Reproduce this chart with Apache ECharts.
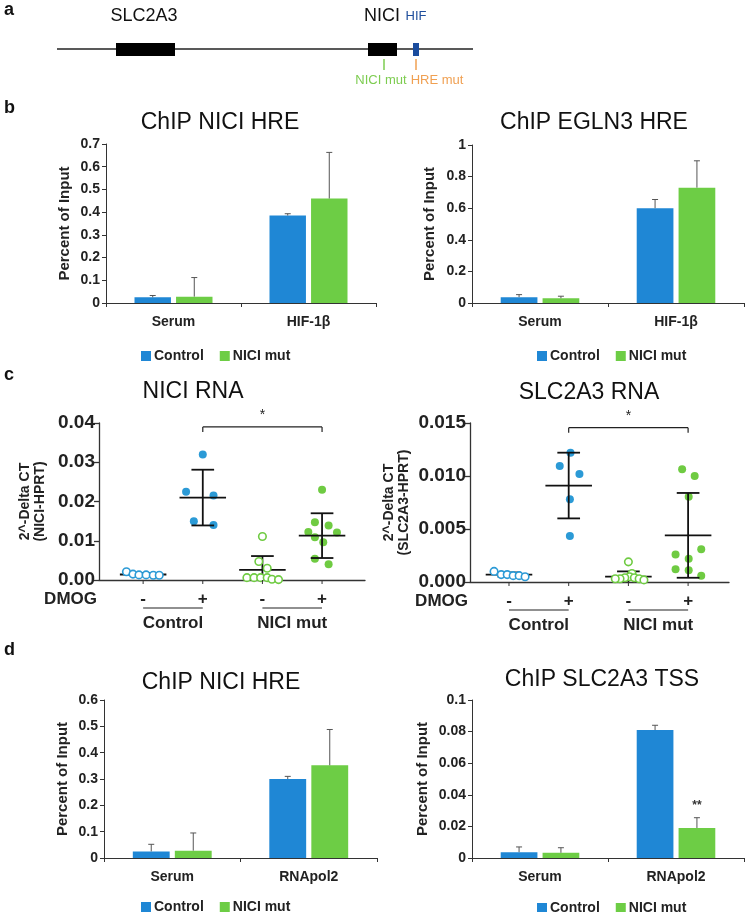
<!DOCTYPE html>
<html><head><meta charset="utf-8">
<script src="https://cdn.jsdelivr.net/npm/echarts@6/dist/echarts.min.js"></script>
<style>html,body{margin:0;padding:0;background:#fff}#c{width:745px;height:912px}</style>
</head><body><div id="c"></div>
<script>
// ---------- DATA ----------
const groupNames = ['Control', 'NICI mut'];

// panel b left: ChIP NICI HRE
const bLeftCats = ['Serum', 'HIF-1β'];
const bLeftControl = [0.025, 0.385];
const bLeftControlErr = [0.008, 0.008];
const bLeftMut = [0.028, 0.46];
const bLeftMutErr = [0.084, 0.203];
const bLeftTicks = [0, 0.7, 0.1];

// panel b right: ChIP EGLN3 HRE
const bRightCats = ['Serum', 'HIF-1β'];
const bRightControl = [0.037, 0.60];
const bRightControlErr = [0.016, 0.055];
const bRightMut = [0.030, 0.73];
const bRightMutErr = [0.013, 0.17];
const bRightTicks = [0, 1, 0.2];

// panel d left: ChIP NICI HRE
const dLeftCats = ['Serum', 'RNApol2'];
const dLeftControl = [0.025, 0.30];
const dLeftControlErr = [0.027, 0.010];
const dLeftMut = [0.028, 0.352];
const dLeftMutErr = [0.067, 0.136];
const dLeftTicks = [0, 0.6, 0.1];

// panel d right: ChIP SLC2A3 TSS
const dRightCats = ['Serum', 'RNApol2'];
const dRightControl = [0.0037, 0.081];
const dRightControlErr = [0.0033, 0.003];
const dRightMut = [0.0033, 0.019];
const dRightMutErr = [0.0032, 0.0065];
const dRightMutSig = ['', '**'];
const dRightTicks = [0, 0.1, 0.02];

// panel c: DMOG groups
const dmogSigns = ['-', '+', '-', '+'];
const cGroupLabels = ['Control', 'NICI mut'];

// NICI RNA (values; jitter = horizontal spread of the dot swarm)
const niciG1 = [0.0021, 0.0015, 0.0013, 0.0013, 0.0012, 0.0012];
const niciG1Jit = [-0.28, -0.17, -0.07, 0.05, 0.17, 0.27];
const niciG2 = [0.032, 0.0225, 0.0215, 0.015, 0.014];
const niciG2Jit = [0, -0.28, 0.18, -0.15, 0.18];
const niciG3 = [0.0111, 0.0047, 0.003, 0.0006, 0.0006, 0.0006, 0.0006, 0.0002, 0.0001];
const niciG3Jit = [0, -0.06, 0.08, -0.26, -0.14, -0.03, 0.08, 0.16, 0.27];
const niciG4 = [0.023, 0.0147, 0.0139, 0.0122, 0.0121, 0.0109, 0.0096, 0.0054, 0.004];
const niciG4Jit = [0, -0.12, 0.11, -0.23, 0.25, -0.12, 0.02, -0.12, 0.11];
const niciMeans = [0.0014, 0.021, 0.0026, 0.0113];
const niciSDs = [0.0004, 0.0071, 0.0035, 0.0057];
const niciTicks = [0, 0.04, 0.01];
const niciBracket = 0.039;

// SLC2A3 RNA
const slcG1 = [0.0010, 0.0007, 0.0007, 0.0006, 0.0006, 0.0005];
const slcG1Jit = [-0.25, -0.13, -0.03, 0.07, 0.17, 0.27];
const slcG2 = [0.0122, 0.01095, 0.0102, 0.0078, 0.00435];
const slcG2Jit = [0.03, -0.15, 0.18, 0.02, 0.02];
const slcG3 = [0.0019, 0.0008, 0.0005, 0.0004, 0.0004, 0.0003, 0.0003, 0.0003, 0.0002];
const slcG3Jit = [0, 0.06, 0.02, -0.06, 0.10, -0.14, -0.22, 0.18, 0.26];
const slcG4 = [0.01063, 0.0100, 0.00804, 0.0031, 0.0026, 0.0022, 0.0012, 0.0011, 0.0006];
const slcG4Jit = [-0.1, 0.11, 0.01, 0.22, -0.21, 0.01, -0.21, 0.01, 0.22];
const slcMeans = [0.0007, 0.0091, 0.0005, 0.0044];
const slcSDs = [0.0002, 0.0031, 0.0005, 0.004];
const slcTicks = [0, 0.015, 0.005];
const slcBracket = 0.01456;

// ---------- STYLE ----------
const FONT = "'Liberation Sans', Arial, sans-serif";
const BLUE = '#1f87d5', GREEN = '#6dcd45';
const DOT_BLUE = '#2b9ad6', DOT_GREEN = '#6fcb42';
const AX = '#333';
const BAR_W = 0.27, BAR_GAP = 0.14;

const chart = echarts.init(document.getElementById('c'), null, {renderer: 'canvas'});

const grids = [
  {left: 106, top: 144, width: 270, height: 159},
  {left: 472, top: 145, width: 272, height: 158},
  {left: 99, top: 423, width: 266, height: 157},
  {left: 470, top: 423, width: 259, height: 159},
  {left: 104, top: 700, width: 273, height: 158},
  {left: 472, top: 700, width: 272, height: 158}
];

const xAxes = [], yAxes = [], series = [];

function barYAxis(gi, ticks, nameGap) {
  return {
    gridIndex: gi, type: 'value', min: ticks[0], max: ticks[1], interval: ticks[2],
    name: 'Percent of Input', nameLocation: 'middle', nameGap: nameGap,
    nameTextStyle: {fontFamily: FONT, fontWeight: 'bold', fontSize: 15, color: '#222'},
    axisLine: {show: true, lineStyle: {color: AX, width: 1}},
    axisTick: {show: true, length: 4, lineStyle: {color: AX}},
    axisLabel: {fontFamily: FONT, fontWeight: 'bold', fontSize: 14, color: '#222', margin: 6},
    splitLine: {show: false}
  };
}
function barXAxis(gi, cats) {
  return {
    gridIndex: gi, type: 'category', data: cats,
    axisLine: {lineStyle: {color: AX, width: 1}},
    axisTick: {show: true, length: 4, lineStyle: {color: AX}},
    axisLabel: {fontFamily: FONT, fontWeight: 'bold', fontSize: 14, color: '#222', margin: 12}
  };
}
function errRender(side) {
  return function (params, api) {
    const ci = api.value(0), v = api.value(1), e = api.value(2);
    const base = api.coord([ci, v]);
    const top = api.coord([ci, v + e]);
    const band = api.size([1, 0])[0];
    const bw = band * BAR_W, gap = bw * BAR_GAP;
    const x = base[0] + side * (bw + gap) / 2;
    const children = [
      {type: 'line', shape: {x1: x, y1: base[1], x2: x, y2: top[1]}, style: {stroke: '#555', lineWidth: 1}},
      {type: 'line', shape: {x1: x - 3, y1: top[1], x2: x + 3, y2: top[1]}, style: {stroke: '#555', lineWidth: 1}}
    ];
    const sig = api.value(3);
    if (sig) {
      children.push({type: 'text', x: x, y: top[1] - 12,
        style: {text: sig, font: 'bold 12px ' + FONT, fill: '#333', textAlign: 'center', textVerticalAlign: 'middle'}});
    }
    return {type: 'group', children: children};
  };
}
function addBarChart(gi, cats, ctrl, ctrlErr, mut, mutErr, ticks, nameGap, sig) {
  xAxes.push(barXAxis(gi, cats));
  yAxes.push(barYAxis(gi, ticks, nameGap));
  series.push({name: groupNames[0], type: 'bar', xAxisIndex: gi, yAxisIndex: gi, data: ctrl,
    barWidth: (BAR_W * 100) + '%', barGap: (BAR_GAP * 100) + '%', itemStyle: {color: BLUE}});
  series.push({name: groupNames[1], type: 'bar', xAxisIndex: gi, yAxisIndex: gi, data: mut,
    barWidth: (BAR_W * 100) + '%', barGap: (BAR_GAP * 100) + '%', itemStyle: {color: GREEN}});
  series.push({type: 'custom', xAxisIndex: gi, yAxisIndex: gi, renderItem: errRender(-1), z: 5,
    data: ctrl.map((v, i) => [i, v, ctrlErr[i], ''])});
  series.push({type: 'custom', xAxisIndex: gi, yAxisIndex: gi, renderItem: errRender(1), z: 5,
    data: mut.map((v, i) => [i, v, mutErr[i], sig ? sig[i] : ''])});
}

addBarChart(0, bLeftCats, bLeftControl, bLeftControlErr, bLeftMut, bLeftMutErr, bLeftTicks, 34);
addBarChart(1, bRightCats, bRightControl, bRightControlErr, bRightMut, bRightMutErr, bRightTicks, 35);

// ---- panel c scatter charts ----
function meanRender(params, api) {
  const g = api.value(0), m = api.value(1), sd = api.value(2);
  const unit = api.size([1, 0])[0];
  const pm = api.coord([g, m]);
  const pt = api.coord([g, m + sd]);
  const lowV = Math.max(0, m - sd);
  const pb = api.coord([g, lowV]);
  const hw = unit * 0.39, cw = unit * 0.19;
  const st = {stroke: '#111', lineWidth: 1.8};
  const ch = [
    {type: 'line', shape: {x1: pm[0] - hw, y1: pm[1], x2: pm[0] + hw, y2: pm[1]}, style: st},
    {type: 'line', shape: {x1: pm[0], y1: pt[1], x2: pm[0], y2: pb[1]}, style: st},
    {type: 'line', shape: {x1: pm[0] - cw, y1: pt[1], x2: pm[0] + cw, y2: pt[1]}, style: st}
  ];
  if (m - sd > 0) ch.push({type: 'line', shape: {x1: pm[0] - cw, y1: pb[1], x2: pm[0] + cw, y2: pb[1]}, style: st});
  return {type: 'group', children: ch};
}
function bracketRender(params, api) {
  const a = api.coord([api.value(0), api.value(2)]);
  const b = api.coord([api.value(1), api.value(2)]);
  const st = {stroke: '#222', lineWidth: 1.2};
  return {type: 'group', children: [
    {type: 'line', shape: {x1: a[0], y1: a[1], x2: b[0], y2: b[1]}, style: st},
    {type: 'line', shape: {x1: a[0], y1: a[1], x2: a[0], y2: a[1] + 5}, style: st},
    {type: 'line', shape: {x1: b[0], y1: b[1], x2: b[0], y2: b[1] + 5}, style: st},
    {type: 'text', x: (a[0] + b[0]) / 2, y: a[1] - 12,
      style: {text: '*', font: '14px ' + FONT, fill: '#222', textAlign: 'center', textVerticalAlign: 'middle'}}
  ]};
}
function signRender(params, api) {
  const g = api.value(0);
  const p = api.coord([g, 0]);
  const ch = [
    {type: 'line', shape: {x1: p[0], y1: p[1], x2: p[0], y2: p[1] + 4}, style: {stroke: AX, lineWidth: 1}},
    {type: 'text', x: p[0], y: p[1] + 19,
      style: {text: dmogSigns[params.dataIndex], font: 'bold 17px ' + FONT, fill: '#222', textAlign: 'center', textVerticalAlign: 'middle'}}
  ];
  if (params.dataIndex === 0) {
    ch.push({type: 'text', x: params.coordSys.x - 2, y: p[1] + 19,
      style: {text: 'DMOG', font: 'bold 17px ' + FONT, fill: '#222', textAlign: 'right', textVerticalAlign: 'middle'}});
  }
  return {type: 'group', children: ch};
}
function groupLabelRender(params, api) {
  const a = api.coord([api.value(0), 0]);
  const b = api.coord([api.value(1), 0]);
  return {type: 'group', children: [
    {type: 'line', shape: {x1: a[0], y1: a[1] + 28, x2: b[0], y2: b[1] + 28}, style: {stroke: '#222', lineWidth: 1.2}},
    {type: 'text', x: (a[0] + b[0]) / 2, y: a[1] + 43,
      style: {text: cGroupLabels[params.dataIndex], font: 'bold 17px ' + FONT, fill: '#222', textAlign: 'center', textVerticalAlign: 'middle'}}
  ]};
}
function addDotChart(gi, xmin, xmax, ticks, decimals, names, nameGap, groups, jits, means, sds, bracketY) {
  xAxes.push({gridIndex: gi, type: 'value', min: xmin, max: xmax,
    axisLine: {show: true, onZero: false, lineStyle: {color: AX, width: 1.3}},
    axisTick: {show: false}, axisLabel: {show: false}, splitLine: {show: false}});
  yAxes.push({gridIndex: gi, type: 'value', min: ticks[0], max: ticks[1], interval: ticks[2],
    name: names, nameLocation: 'middle', nameGap: nameGap,
    nameTextStyle: {fontFamily: FONT, fontWeight: 'bold', fontSize: 14, color: '#222', lineHeight: 15},
    axisLine: {show: true, lineStyle: {color: AX, width: 1.3}},
    axisTick: {show: true, length: 5, lineStyle: {color: AX, width: 1.3}},
    axisLabel: {fontFamily: FONT, fontWeight: 'bold', fontSize: 19, color: '#222', margin: 4,
      formatter: v => v.toFixed(decimals)},
    splitLine: {show: false}});
  const colors = [DOT_BLUE, DOT_BLUE, DOT_GREEN, DOT_GREEN];
  const open = [true, false, true, false];
  series.push({type: 'custom', xAxisIndex: gi, yAxisIndex: gi, renderItem: meanRender, z: 3,
    data: means.map((m, i) => [i + 1, m, sds[i]])});
  groups.forEach((vals, gIdx) => {
    series.push({type: 'scatter', xAxisIndex: gi, yAxisIndex: gi, symbol: 'circle',
      symbolSize: open[gIdx] ? 7.5 : 8, z: open[gIdx] ? 4 : 2,
      itemStyle: open[gIdx] ? {color: '#fff', borderColor: colors[gIdx], borderWidth: 1.6, opacity: 1}
                            : {color: colors[gIdx], opacity: 1},
      data: vals.map((v, k) => [gIdx + 1 + jits[gIdx][k], v])});
  });
  series.push({type: 'custom', xAxisIndex: gi, yAxisIndex: gi, renderItem: bracketRender, clip: false, z: 6,
    data: [[2, 4, bracketY]]});
  series.push({type: 'custom', xAxisIndex: gi, yAxisIndex: gi, renderItem: signRender, clip: false, z: 6,
    data: dmogSigns.map((s, i) => [i + 1, 0])});
  series.push({type: 'custom', xAxisIndex: gi, yAxisIndex: gi, renderItem: groupLabelRender, clip: false, z: 6,
    data: [[1, 2, 0], [3, 4, 0]]});
}

addDotChart(2, 0.26, 4.72, niciTicks, 2, '2^-Delta CT\n(NICI-HPRT)', 51,
  [niciG1, niciG2, niciG3, niciG4], [niciG1Jit, niciG2Jit, niciG3Jit, niciG4Jit], niciMeans, niciSDs, niciBracket);
addDotChart(3, 0.347, 4.685, slcTicks, 3, '2^-Delta CT\n(SLC2A3-HPRT)', 58,
  [slcG1, slcG2, slcG3, slcG4], [slcG1Jit, slcG2Jit, slcG3Jit, slcG4Jit], slcMeans, slcSDs, slcBracket);

addBarChart(4, dLeftCats, dLeftControl, dLeftControlErr, dLeftMut, dLeftMutErr, dLeftTicks, 34);
addBarChart(5, dRightCats, dRightControl, dRightControlErr, dRightMut, dRightMutErr, dRightTicks, 42, dRightMutSig);

// ---------- TEXT / DIAGRAM ----------
function txt(x, y, text, font, fill, align) {
  return {type: 'text', x: x, y: y, silent: true,
    style: {text: text, font: font, fill: fill || '#111', textAlign: align || 'center', textVerticalAlign: 'middle'}};
}
const graphics = [
  txt(4, 10, 'a', 'bold 18px ' + FONT, '#111', 'left'),
  txt(4, 108, 'b', 'bold 18px ' + FONT, '#111', 'left'),
  txt(4, 375, 'c', 'bold 18px ' + FONT, '#111', 'left'),
  txt(4, 650, 'd', 'bold 18px ' + FONT, '#111', 'left'),
  {type: 'line', shape: {x1: 57, y1: 49, x2: 473, y2: 49}, style: {stroke: '#222', lineWidth: 1.5}},
  {type: 'rect', shape: {x: 116, y: 43, width: 59, height: 13}, style: {fill: '#000'}},
  {type: 'rect', shape: {x: 368, y: 43, width: 29, height: 13}, style: {fill: '#000'}},
  {type: 'rect', shape: {x: 413, y: 43, width: 6, height: 13}, style: {fill: '#1a4c9e'}},
  {type: 'line', shape: {x1: 384, y1: 59, x2: 384, y2: 70}, style: {stroke: '#7dcc50', lineWidth: 1.5}},
  {type: 'line', shape: {x1: 416, y1: 59, x2: 416, y2: 70}, style: {stroke: '#f0a052', lineWidth: 1.5}},
  txt(144, 16, 'SLC2A3', '18px ' + FONT),
  txt(382, 16, 'NICI', '18px ' + FONT),
  txt(416, 16, 'HIF', '13px ' + FONT, '#1f4e9c'),
  txt(381, 80, 'NICI mut', '13px ' + FONT, '#7dcc50'),
  txt(437, 80, 'HRE mut', '13px ' + FONT, '#f0a052'),
  txt(220, 123, 'ChIP NICI HRE', '23px ' + FONT),
  txt(594, 123, 'ChIP EGLN3 HRE', '23px ' + FONT),
  txt(193, 392, 'NICI RNA', '23px ' + FONT),
  txt(589, 393, 'SLC2A3 RNA', '23px ' + FONT),
  txt(221, 683, 'ChIP NICI HRE', '23px ' + FONT),
  txt(602, 680, 'ChIP SLC2A3 TSS', '23px ' + FONT)
];

function legendAt(left, top) {
  return {left: left, top: top, data: groupNames, itemWidth: 10, itemHeight: 10, itemGap: 16,
    icon: 'rect', textStyle: {fontFamily: FONT, fontWeight: 'bold', fontSize: 14, color: '#222', padding: [0, 0, 0, -2]},
    selectedMode: false};
}

chart.setOption({
  animation: false,
  backgroundColor: '#fff',
  grid: grids,
  xAxis: xAxes,
  yAxis: yAxes,
  legend: [legendAt(136, 344), legendAt(532, 344), legendAt(136, 895), legendAt(532, 896)],
  series: series,
  graphic: graphics
});
</script>
</body></html>
